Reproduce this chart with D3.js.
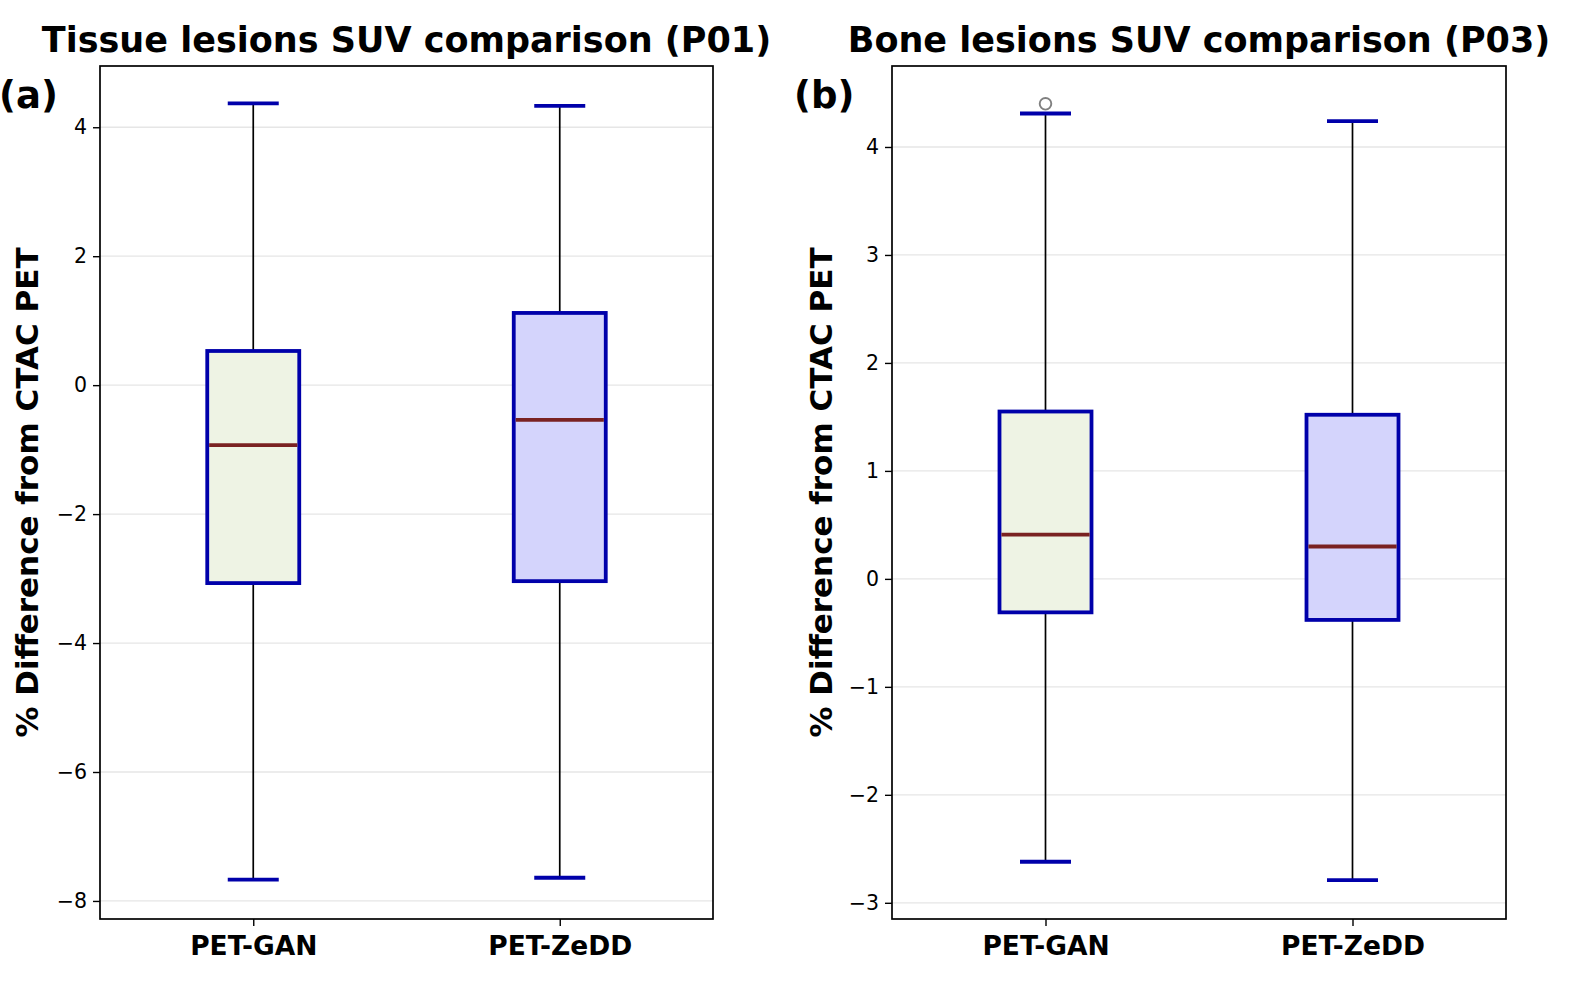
<!DOCTYPE html>
<html>
<head>
<meta charset="utf-8">
<script src="https://cdn.jsdelivr.net/npm/d3@7"></script>
<style>
  html, body { margin: 0; padding: 0; background: #fff; overflow: hidden; }
  svg { display: block; }
  text { font-family: "DejaVu Sans", sans-serif; }
</style>
</head>
<body>
<div id="chart"></div>
<script>
// data
var groups = ["PET-GAN", "PET-ZeDD"];
var fills = ["#eef3e4", "#d4d4fc"];

// panel (a) tissue lesions P01
var tissueWhiskLo = [-7.67, -7.64];
var tissueQ1 = [-3.07, -3.04];
var tissueMed = [-0.93, -0.54];
var tissueQ3 = [0.53, 1.12];
var tissueWhiskHi = [4.37, 4.33];
var tissueOutliers = [[], []];
var tissueTicks = [-8, -6, -4, -2, 0, 2, 4];

// panel (b) bone lesions P03
var boneWhiskLo = [-2.62, -2.79];
var boneQ1 = [-0.31, -0.38];
var boneMed = [0.41, 0.30];
var boneQ3 = [1.55, 1.52];
var boneWhiskHi = [4.31, 4.24];
var boneOutliers = [[4.40], []];
var boneTicks = [-3, -2, -1, 0, 1, 2, 3, 4];

var W = 1582, H = 998;
var svg = d3.select("#chart").append("svg")
    .attr("width", W).attr("height", H);

function makeRows(lo, q1, med, q3, hi, outl) {
    return groups.map(function (g, i) {
        return { name: g, lo: lo[i], q1: q1[i], med: med[i], q3: q3[i], hi: hi[i], out: outl[i], fill: fills[i] };
    });
}

function drawPanel(opt) {
    var g = svg.append("g").attr("transform", "translate(" + opt.left + "," + opt.top + ")");
    var w = opt.width, h = opt.height;

    var x = d3.scalePoint().domain(groups).range([0, w]).padding(0.5);
    var y = d3.scaleLinear().domain(opt.domain).range([h, 0]);

    // grid
    g.selectAll(".grid").data(opt.ticks).enter().append("line")
        .attr("x1", 0).attr("x2", w)
        .attr("y1", function (d) { return y(d); })
        .attr("y2", function (d) { return y(d); })
        .attr("stroke", "#e6e6e6").attr("stroke-width", 1.3);

    var rows = opt.rows;
    var bw = 92, cw = 51;

    var b = g.selectAll(".box").data(rows).enter().append("g");
    // whiskers
    b.append("line")
        .attr("x1", function (d) { return x(d.name); }).attr("x2", function (d) { return x(d.name); })
        .attr("y1", function (d) { return y(d.q3); }).attr("y2", function (d) { return y(d.hi); })
        .attr("stroke", "#000").attr("stroke-width", 1.7);
    b.append("line")
        .attr("x1", function (d) { return x(d.name); }).attr("x2", function (d) { return x(d.name); })
        .attr("y1", function (d) { return y(d.q1); }).attr("y2", function (d) { return y(d.lo); })
        .attr("stroke", "#000").attr("stroke-width", 1.7);
    // caps
    ["hi", "lo"].forEach(function (k) {
        b.append("line")
            .attr("x1", function (d) { return x(d.name) - cw / 2; })
            .attr("x2", function (d) { return x(d.name) + cw / 2; })
            .attr("y1", function (d) { return y(d[k]); }).attr("y2", function (d) { return y(d[k]); })
            .attr("stroke", "#0000aa").attr("stroke-width", 3.8);
    });
    // box
    b.append("rect")
        .attr("x", function (d) { return x(d.name) - bw / 2; })
        .attr("y", function (d) { return y(d.q3); })
        .attr("width", bw)
        .attr("height", function (d) { return y(d.q1) - y(d.q3); })
        .attr("fill", function (d) { return d.fill; })
        .attr("stroke", "#0000aa").attr("stroke-width", 3.8);
    // median
    b.append("line")
        .attr("x1", function (d) { return x(d.name) - bw / 2 + 1.9; })
        .attr("x2", function (d) { return x(d.name) + bw / 2 - 1.9; })
        .attr("y1", function (d) { return y(d.med); }).attr("y2", function (d) { return y(d.med); })
        .attr("stroke", "#7a2222").attr("stroke-width", 3.8);
    // outliers
    b.each(function (d) {
        d3.select(this).selectAll("circle").data(d.out).enter().append("circle")
            .attr("cx", x(d.name)).attr("cy", function (v) { return y(v); })
            .attr("r", 5.8).attr("fill", "none")
            .attr("stroke", "#808080").attr("stroke-width", 1.9);
    });

    // axes
    var ya = g.append("g").call(d3.axisLeft(y).tickValues(opt.ticks).tickSize(7).tickPadding(6)
        .tickFormat(function (d) { return d < 0 ? "\u2212" + Math.abs(d) : d; }));
    ya.selectAll("text").style("font-size", "20.5px").attr("fill", "#000");
    ya.select(".domain").remove();

    var xa = g.append("g").attr("transform", "translate(0," + h + ")")
        .call(d3.axisBottom(x).tickSize(7).tickPadding(10));
    xa.selectAll("text").style("font-size", "26.5px").style("font-weight", "bold").attr("fill", "#000");
    xa.select(".domain").remove();
    xa.selectAll("line").attr("stroke-width", 1.4);
    ya.selectAll("line").attr("stroke-width", 1.4);

    // frame
    g.append("rect").attr("width", w).attr("height", h)
        .attr("fill", "none").attr("stroke", "#000").attr("stroke-width", 1.7);

    // title
    g.append("text").attr("x", w / 2).attr("y", -14)
        .attr("text-anchor", "middle")
        .style("font-size", "35px").style("font-weight", "bold")
        .text(opt.title);

    // y label
    g.append("text")
        .attr("transform", "translate(" + opt.ylabX + "," + (h / 2) + ") rotate(-90)")
        .attr("text-anchor", "middle")
        .style("font-size", "31px").style("font-weight", "bold")
        .text("% Difference from CTAC PET");

    // panel letter
    g.append("text").attr("x", opt.letterX).attr("y", 42)
        .style("font-size", "37px").style("font-weight", "bold")
        .text(opt.letter);
}

drawPanel({
    left: 100, top: 66, width: 613, height: 853,
    domain: [-8.28, 4.95], ticks: tissueTicks,
    rows: makeRows(tissueWhiskLo, tissueQ1, tissueMed, tissueQ3, tissueWhiskHi, tissueOutliers),
    title: "Tissue lesions SUV comparison (P01)", letter: "(a)", letterX: -101, ylabX: -62
});

drawPanel({
    left: 892, top: 66, width: 614, height: 853,
    domain: [-3.15, 4.75], ticks: boneTicks,
    rows: makeRows(boneWhiskLo, boneQ1, boneMed, boneQ3, boneWhiskHi, boneOutliers),
    title: "Bone lesions SUV comparison (P03)", letter: "(b)", letterX: -98, ylabX: -60
});
</script>
</body>
</html>
